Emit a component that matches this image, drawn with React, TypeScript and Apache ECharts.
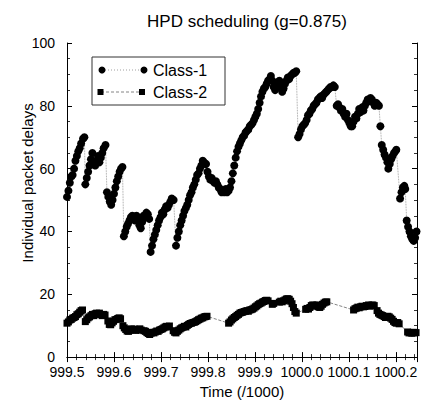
import React, { useEffect, useRef } from "react";
import * as echarts from "echarts";

const TITLE = "HPD scheduling (g=0.875)";
const X_NAME = "Time (/1000)";
const Y_NAME = "Individual packet delays";
const SERIES_NAMES = ["Class-1", "Class-2"];

// Class-1 packet delays: [time (/1000), delay]
const class1: [number, number][] = [
  [999.500, 51], [999.503, 53], [999.506, 55.5], [999.509, 57.5], [999.512, 58], [999.515, 60], [999.518, 62.5],
  [999.521, 64], [999.524, 65.5], [999.527, 66.5], [999.530, 68], [999.534, 69.5], [999.537, 70],
  [999.539, 55], [999.542, 57], [999.545, 59], [999.548, 61], [999.551, 63], [999.554, 65], [999.557, 62],
  [999.560, 61], [999.563, 62.5], [999.566, 64], [999.569, 62], [999.572, 63.5], [999.575, 65], [999.578, 66.5], [999.582, 67.5],
  [999.585, 52.5], [999.588, 51], [999.591, 49.5], [999.594, 48.5], [999.597, 50], [999.600, 52], [999.603, 54],
  [999.606, 56], [999.609, 57.5], [999.612, 59], [999.615, 60], [999.618, 60.5],
  [999.621, 38.5], [999.624, 40], [999.627, 41.5], [999.630, 42.5], [999.633, 43.5], [999.636, 44.5], [999.639, 45],
  [999.642, 44], [999.645, 43.5], [999.648, 45], [999.651, 44], [999.654, 42], [999.657, 41], [999.660, 43],
  [999.663, 45], [999.666, 44.5], [999.669, 46], [999.672, 45.5], [999.675, 44],
  [999.678, 33.5], [999.681, 35.5], [999.684, 37.5], [999.687, 39], [999.690, 40.5], [999.693, 42], [999.696, 43.5],
  [999.699, 44.5], [999.702, 46], [999.705, 45.5], [999.708, 47], [999.711, 48], [999.714, 47.5], [999.717, 48.5],
  [999.720, 49.5], [999.723, 50.5], [999.727, 50],
  [999.732, 35.5], [999.735, 38], [999.738, 40], [999.741, 42], [999.744, 43.5], [999.747, 45], [999.750, 46.5],
  [999.753, 47.5], [999.756, 48.5], [999.759, 50], [999.762, 51.5], [999.765, 52.5], [999.768, 54], [999.771, 55],
  [999.774, 56.5], [999.777, 58], [999.780, 58.5], [999.783, 60], [999.786, 61], [999.789, 62.5],
  [999.792, 62], [999.796, 61.5], [999.799, 59], [999.802, 57.5], [999.805, 56.5], [999.808, 57], [999.811, 56],
  [999.814, 55.5], [999.817, 56], [999.820, 55], [999.823, 54], [999.826, 53.5], [999.829, 52.5], [999.832, 53],
  [999.835, 52.5], [999.838, 53.5], [999.841, 52.5], [999.844, 53], [999.847, 54], [999.850, 56], [999.853, 58.5],
  [999.856, 61], [999.859, 63.5], [999.862, 65.5], [999.865, 67], [999.868, 68], [999.871, 69], [999.874, 70],
  [999.877, 70.5], [999.880, 71.5], [999.883, 72], [999.886, 72.5], [999.889, 73.5], [999.892, 74], [999.895, 74.5],
  [999.898, 75.5], [999.901, 76.5], [999.904, 77.5], [999.907, 79], [999.910, 81], [999.913, 83], [999.916, 84.5],
  [999.919, 85.5], [999.922, 86], [999.925, 87], [999.928, 88], [999.931, 88.5], [999.934, 89.5], [999.937, 88],
  [999.940, 86], [999.943, 85], [999.946, 86.5], [999.949, 87.5], [999.952, 88], [999.955, 86], [999.958, 84.5],
  [999.961, 85.5], [999.964, 87], [999.967, 88], [999.970, 89], [999.973, 88.5], [999.976, 89.5], [999.979, 90],
  [999.982, 90.5], [999.985, 90.5], [999.988, 91],
  [999.992, 70], [999.995, 71], [999.998, 72.5], [1000.001, 73.5], [1000.004, 74], [1000.007, 74.5], [1000.010, 75.5],
  [1000.013, 77], [1000.016, 77.5], [1000.019, 78.5], [1000.022, 79], [1000.025, 80], [1000.028, 80.5], [1000.031, 81],
  [1000.034, 82], [1000.037, 82.5], [1000.040, 83], [1000.043, 82.5], [1000.046, 83.5], [1000.049, 84], [1000.052, 84.5],
  [1000.055, 85], [1000.058, 85.5], [1000.061, 86], [1000.064, 86], [1000.067, 86.5], [1000.070, 86],
  [1000.074, 80], [1000.077, 80.5], [1000.080, 79.5], [1000.083, 78.5], [1000.086, 79], [1000.089, 77.5], [1000.092, 76.5],
  [1000.095, 77.5], [1000.098, 75.5], [1000.101, 74.5], [1000.104, 73.5], [1000.107, 73.5], [1000.110, 75], [1000.113, 76.5],
  [1000.116, 76], [1000.119, 77.5], [1000.122, 79], [1000.125, 78], [1000.128, 79.5], [1000.131, 78.5], [1000.134, 80],
  [1000.137, 81], [1000.140, 82], [1000.143, 81.5], [1000.146, 82.5], [1000.149, 82], [1000.152, 81], [1000.155, 80],
  [1000.158, 81], [1000.161, 80.5], [1000.164, 80],
  [1000.167, 73.5], [1000.170, 67.5], [1000.173, 66], [1000.176, 64.5], [1000.179, 63.5], [1000.182, 62], [1000.184, 60],
  [1000.187, 61.5], [1000.190, 63], [1000.193, 64], [1000.196, 65], [1000.199, 65.5], [1000.201, 66],
  [1000.209, 50.5], [1000.212, 52.5], [1000.215, 54], [1000.218, 54.5], [1000.220, 53.5],
  [1000.223, 43.5], [1000.226, 41.5], [1000.229, 40], [1000.232, 38.5], [1000.235, 37.5], [1000.238, 37],
  [1000.241, 38], [1000.244, 40], [1000.247, 39.5],
];

// Class-2 packet delays: [time (/1000), delay]
const class2: [number, number][] = [
  [999.500, 10.8], [999.503, 11.2], [999.506, 11.8], [999.509, 12.0], [999.512, 12.4], [999.515, 12.6], [999.518, 12.9],
  [999.521, 13.5], [999.524, 13.8], [999.527, 14.3], [999.530, 14.8], [999.533, 15.0],
  [999.539, 11.3], [999.542, 11.9], [999.545, 12.5], [999.548, 12.8], [999.551, 13.2], [999.554, 13.6], [999.557, 13.2],
  [999.560, 13.8], [999.563, 14.0], [999.566, 13.6], [999.569, 14.0], [999.572, 13.5], [999.575, 13.2], [999.578, 13.6], [999.581, 13.4],
  [999.587, 11.5], [999.590, 10.4], [999.593, 10.3], [999.596, 10.9], [999.599, 11.4], [999.602, 11.9], [999.605, 12.0],
  [999.608, 12.3], [999.611, 12.5], [999.614, 12.2],
  [999.619, 10.0], [999.622, 9.3], [999.625, 8.8], [999.628, 8.3], [999.631, 8.2], [999.634, 8.6], [999.637, 9.0],
  [999.640, 8.7], [999.643, 8.9], [999.646, 8.5], [999.649, 8.8], [999.652, 8.7], [999.655, 9.0], [999.658, 8.6],
  [999.664, 8.4], [999.667, 8.2], [999.670, 7.8], [999.673, 7.5], [999.676, 7.2], [999.679, 7.6], [999.682, 7.9],
  [999.685, 7.7], [999.688, 8.0], [999.691, 8.3], [999.694, 8.2], [999.697, 8.6], [999.700, 8.8], [999.703, 9.0],
  [999.706, 9.3], [999.709, 9.6], [999.712, 9.8], [999.715, 9.6], [999.718, 9.9],
  [999.726, 8.4], [999.729, 7.9], [999.732, 7.7], [999.735, 8.2], [999.738, 8.6], [999.741, 9.0], [999.744, 9.3],
  [999.747, 9.5], [999.750, 9.8], [999.753, 9.6], [999.756, 10.1], [999.759, 10.4], [999.762, 10.7], [999.765, 10.8],
  [999.768, 11.0], [999.771, 11.1], [999.774, 11.3], [999.777, 11.6], [999.780, 11.9], [999.783, 12.1], [999.786, 12.4],
  [999.789, 12.5], [999.792, 12.8], [999.795, 12.9], [999.798, 13.0],
  [999.844, 10.8], [999.847, 11.2], [999.850, 11.8], [999.853, 12.2], [999.856, 12.6], [999.859, 12.9], [999.862, 13.3],
  [999.865, 13.6], [999.868, 14.0], [999.871, 14.2], [999.874, 14.3], [999.877, 14.5], [999.880, 14.6], [999.883, 14.8],
  [999.886, 14.6], [999.889, 15.0], [999.892, 15.1], [999.895, 15.3], [999.898, 15.6], [999.901, 16.0], [999.904, 16.3],
  [999.907, 16.7], [999.910, 17.0], [999.913, 17.2], [999.916, 17.5], [999.919, 17.7], [999.922, 18.0], [999.925, 18.1],
  [999.928, 17.9], [999.937, 16.8], [999.940, 17.1],
  [999.952, 17.5], [999.955, 17.8], [999.958, 17.6], [999.961, 17.9], [999.964, 18.2], [999.967, 18.5], [999.970, 18.6],
  [999.973, 18.4], [999.976, 17.8], [999.979, 17.0], [999.982, 15.8], [999.985, 14.5], [999.988, 14.0],
  [1000.008, 15.2], [1000.011, 15.5], [1000.014, 15.3], [1000.017, 15.8], [1000.020, 16.4], [1000.023, 16.6], [1000.026, 16.5],
  [1000.029, 16.2], [1000.032, 16.6], [1000.035, 16.0], [1000.038, 15.8], [1000.041, 16.2], [1000.044, 16.8], [1000.047, 17.2],
  [1000.050, 17.5], [1000.053, 17.6],
  [1000.110, 15.0], [1000.113, 15.4], [1000.116, 15.6], [1000.119, 15.9], [1000.122, 15.7], [1000.125, 16.0], [1000.128, 16.2],
  [1000.131, 16.0], [1000.134, 16.1], [1000.137, 16.4],
  [1000.142, 16.6], [1000.145, 16.2], [1000.148, 16.5], [1000.151, 16.6], [1000.154, 16.4],
  [1000.160, 14.8], [1000.163, 14.0], [1000.166, 13.6], [1000.169, 13.4], [1000.172, 13.2], [1000.175, 12.9], [1000.178, 12.6],
  [1000.183, 13.0], [1000.186, 12.8], [1000.189, 12.4], [1000.192, 12.0], [1000.195, 11.4], [1000.198, 11.0], [1000.201, 10.8],
  [1000.204, 11.0], [1000.207, 10.6],
  [1000.225, 8.0], [1000.228, 7.7], [1000.231, 7.8], [1000.234, 7.6], [1000.237, 7.9], [1000.240, 7.7], [1000.243, 7.8],
];

const X_MIN = 999.5;
const X_MAX = 1000.245;
const X_INTERVAL = 0.1;
const Y_MIN = 0;
const Y_MAX = 100;
const Y_INTERVAL = 20;

const FONT = '"Liberation Sans", Arial, Helvetica, sans-serif';

export default function App() {
  const ref = useRef<HTMLDivElement>(null);
  useEffect(() => {
    if (!ref.current) return;
    const chart = echarts.init(ref.current, undefined, { renderer: "svg" });

    const axisCommon = {
      axisLine: { show: true, lineStyle: { color: "#000", width: 1 } },
      axisTick: { show: true, inside: true, length: 5, lineStyle: { color: "#000", width: 1 } },
      minorTick: { show: true, length: 3, lineStyle: { color: "#000", width: 0.8 } },
      splitLine: { show: false },
    };

    const option: any = {
      animation: false,
      backgroundColor: "#fff",
      textStyle: { fontFamily: FONT },
      title: {
        text: TITLE,
        left: 242,
        top: 8,
        textAlign: "center",
        textStyle: { fontFamily: FONT, fontSize: 17, fontWeight: "normal", color: "#000" },
      },
      grid: { left: 67, right: 5, top: 43, bottom: 41, containLabel: false },
      xAxis: [
        {
          ...axisCommon,
          type: "value",
          position: "bottom",
          min: X_MIN,
          max: X_MAX,
          interval: X_INTERVAL,
          minorTick: { ...axisCommon.minorTick, splitNumber: 5 },
          axisLabel: {
            color: "#000",
            fontSize: 14,
            fontFamily: FONT,
            margin: 8,
            showMaxLabel: false,
            formatter: (v: number) => v.toFixed(1),
          },
          name: X_NAME,
          nameLocation: "middle",
          nameGap: 24,
          nameTextStyle: { color: "#000", fontSize: 15, fontFamily: FONT },
        },
        {
          ...axisCommon,
          type: "value",
          position: "top",
          min: X_MIN,
          max: X_MAX,
          interval: X_INTERVAL,
          minorTick: { ...axisCommon.minorTick, splitNumber: 5 },
          axisLabel: { show: false },
        },
      ],
      yAxis: [
        {
          ...axisCommon,
          type: "value",
          position: "left",
          min: Y_MIN,
          max: Y_MAX,
          interval: Y_INTERVAL,
          minorTick: { ...axisCommon.minorTick, splitNumber: 4 },
          axisLabel: { color: "#000", fontSize: 14, fontFamily: FONT, margin: 12 },
        },
        {
          ...axisCommon,
          type: "value",
          position: "right",
          min: Y_MIN,
          max: Y_MAX,
          interval: Y_INTERVAL,
          minorTick: { ...axisCommon.minorTick, splitNumber: 4 },
          axisLabel: { show: false },
        },
      ],
      series: [
        {
          name: SERIES_NAMES[0],
          type: "line",
          xAxisIndex: 0,
          yAxisIndex: 0,
          data: class1,
          symbol: "circle",
          symbolSize: 8,
          showSymbol: true,
          itemStyle: { color: "#000" },
          lineStyle: { color: "#888", width: 0.8, type: "dotted" },
          clip: true,
        },
        {
          name: SERIES_NAMES[1],
          type: "line",
          xAxisIndex: 0,
          yAxisIndex: 0,
          data: class2,
          symbol: "rect",
          symbolSize: 7,
          showSymbol: true,
          itemStyle: { color: "#000" },
          lineStyle: { color: "#666", width: 0.8, type: "dashed" },
          clip: true,
        },
      ],
      graphic: [
        {
          type: "text",
          x: 27,
          y: 183,
          rotation: Math.PI / 2,
          style: {
            text: Y_NAME,
            fontSize: 15,
            fontFamily: FONT,
            fill: "#000",
            align: "center",
            verticalAlign: "middle",
          },
        },
        {
          type: "group",
          z: 100,
          children: [
            {
              type: "rect",
              shape: { x: 92, y: 57, width: 133, height: 48 },
              style: { fill: "#fff", stroke: "#333", lineWidth: 1 },
            },
            {
              type: "line",
              shape: { x1: 102, y1: 70, x2: 144, y2: 70 },
              style: { stroke: "#888", lineWidth: 0.8, lineDash: [1, 2] },
            },
            { type: "circle", shape: { cx: 102, cy: 70, r: 3.5 }, style: { fill: "#000" } },
            { type: "circle", shape: { cx: 144, cy: 70, r: 3.5 }, style: { fill: "#000" } },
            {
              type: "text",
              x: 153,
              y: 70,
              style: {
                text: SERIES_NAMES[0],
                fontSize: 16,
                fontFamily: FONT,
                fill: "#000",
                verticalAlign: "middle",
              },
            },
            {
              type: "line",
              shape: { x1: 101, y1: 92, x2: 142, y2: 92 },
              style: { stroke: "#666", lineWidth: 0.8, lineDash: [3, 2] },
            },
            { type: "rect", shape: { x: 97.5, y: 89, width: 6, height: 6 }, style: { fill: "#000" } },
            { type: "rect", shape: { x: 139, y: 89, width: 6, height: 6 }, style: { fill: "#000" } },
            {
              type: "text",
              x: 153,
              y: 92,
              style: {
                text: SERIES_NAMES[1],
                fontSize: 16,
                fontFamily: FONT,
                fill: "#000",
                verticalAlign: "middle",
              },
            },
          ],
        },
      ],
    };

    chart.setOption(option);
    return () => chart.dispose();
  }, []);

  return (
    <div
      ref={ref}
      style={{ position: "fixed", left: 0, top: 0, width: 422, height: 404, background: "#fff" }}
    />
  );
}
